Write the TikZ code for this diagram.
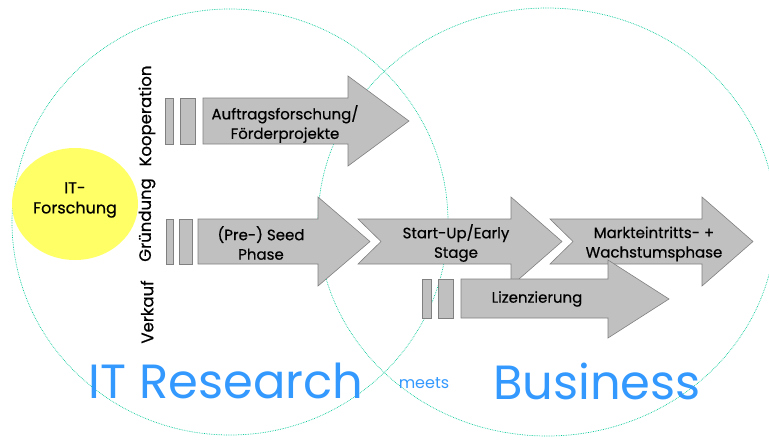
\documentclass[tikz,border=0pt]{standalone}
\usepackage{fontspec}
\setmainfont{Poppins}
\newfontfamily\kraeftig{Poppins}[FakeBold=0.6]
\definecolor{kreis}{RGB}{0,200,150}
\definecolor{grau}{RGB}{192,192,192}
\definecolor{rand}{RGB}{128,128,128}
\definecolor{gelb}{RGB}{255,255,102}
\definecolor{blau}{RGB}{51,153,255}

\begin{document}
\begin{tikzpicture}[x=1pt,y=-1pt]
\tikzstyle{every node}+=[inner sep=0pt, align=center]
\tikzstyle{pfeil}=[fill=grau, draw=rand, line width=0.6pt]
\tikzstyle{ring}=[draw=kreis, line width=0.7pt, densely dotted]
\tikzstyle{schrift}=[font=\kraeftig\fontsize{15}{19.5}\selectfont]
\tikzstyle{phase}=[font=\kraeftig\fontsize{16.5}{20}\selectfont, rotate=90]
\tikzstyle{titel}=[text=blau, font=\fontsize{48}{48}\selectfont]
\useasboundingbox (0,0) rectangle (769,440);
\draw [ring] (230,222) ellipse (218 and 213);
\draw [ring] (547,222) ellipse (229 and 214);
\fill [gelb] (75,204) ellipse (63 and 56);
\node [font=\kraeftig\fontsize{16}{20}\selectfont] (forschung) at (75,200) {IT-\\Forschung};
\node [phase] (koop) at (147,116) {Kooperation};
\node [phase] (gruendung) at (147,220) {Gründung};
\node [phase] (verkauf) at (147,312) {Verkauf};
% Kooperation
\draw [pfeil] (165,98) rectangle (173,144);
\draw [pfeil] (180,98) rectangle (195,144);
\draw [pfeil] (203,98) -- (348,98) -- (348,76) -- (409,121) -- (348,166) -- (348,144) -- (203,144) -- cycle;
\node [schrift] (auftrag) at (285,124) {Auftragsforschung/\\Förderprojekte};
% Gruendung
\draw [pfeil] (166,219) rectangle (173,264);
\draw [pfeil] (179,219) rectangle (192,264);
\draw [pfeil] (198,219) -- (318,219) -- (318,197) -- (370,241.5) -- (318,286) -- (318,264) -- (198,264) -- cycle;
\node [schrift] (seed) at (261,243) {(Pre-) Seed\\Phase};
\draw [pfeil] (358,219) -- (511,219) -- (511,197) -- (562,241.5) -- (511,286) -- (511,264) -- (358,264) -- (381,241.5) -- cycle;
\node [schrift] (startup) at (456,243) {Start-Up/Early\\Stage};
\draw [pfeil] (550,219) -- (702,219) -- (702,197) -- (753,241.5) -- (702,286) -- (702,264) -- (550,264) -- (573,241.5) -- cycle;
\node [schrift] (markt) at (654,244) {Markteintritts- +\\Wachstumsphase};
% Verkauf
\draw [pfeil] (422,279) rectangle (431,318);
\draw [pfeil] (438,279) rectangle (453,318);
\draw [pfeil] (461,279) -- (608,279) -- (608,260) -- (669,299) -- (608,338) -- (608,318) -- (461,318) -- cycle;
\node [schrift] (lizenz) at (537,299) {Lizenzierung};
% Titel
\node [titel] (research) at (226,381) {IT Research};
\node [text=blau, font=\fontsize{16}{16}\selectfont] (meets) at (424,383) {meets};
\node [titel] (business) at (597,381) {Business};
\end{tikzpicture}
\end{document}
